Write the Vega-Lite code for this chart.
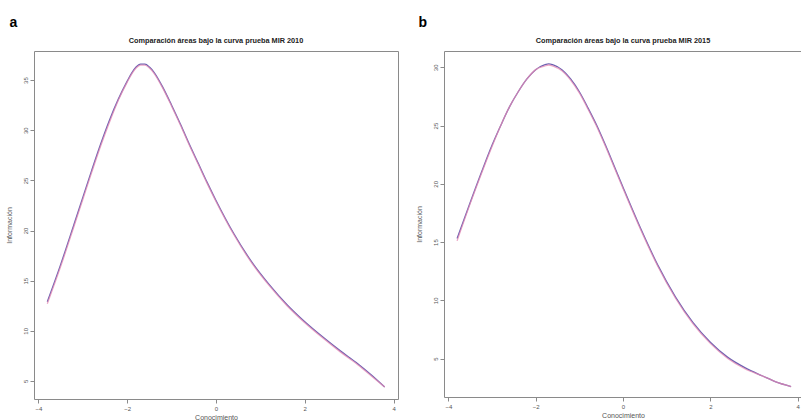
{
  "$schema": "https://vega.github.io/schema/vega-lite/v6.json",
  "padding": {"left": 4, "top": 16, "right": 0, "bottom": 0},
  "spacing": 15,
  "background": "white",
  "config": {
    "font": "Liberation Sans",
    "view": {"stroke": "#8a8a8a", "strokeWidth": 1},
    "axis": {"domain": false, "grid": false, "tickColor": "#8a8a8a", "tickSize": 4, "labelFontSize": 6, "labelColor": "#555", "titleFontSize": 7, "titleFontWeight": "normal", "titleColor": "#555", "labelPadding": 2},
    "title": {"font": "Liberation Sans"}
  },
  "datasets": {
    "a": [
      {"x": -3.8, "y": 12.9, "s": "1"}, {"x": -3.5, "y": 16.6, "s": "1"}, {"x": -3.2, "y": 20.6, "s": "1"}, {"x": -3.0, "y": 23.3, "s": "1"}, {"x": -2.8, "y": 26.0, "s": "1"}, {"x": -2.6, "y": 28.6, "s": "1"}, {"x": -2.4, "y": 31.0, "s": "1"}, {"x": -2.2, "y": 33.1, "s": "1"}, {"x": -2.0, "y": 34.9, "s": "1"}, {"x": -1.9, "y": 35.7, "s": "1"}, {"x": -1.8, "y": 36.3, "s": "1"}, {"x": -1.7, "y": 36.6, "s": "1"}, {"x": -1.6, "y": 36.6, "s": "1"}, {"x": -1.5, "y": 36.3, "s": "1"}, {"x": -1.4, "y": 35.8, "s": "1"}, {"x": -1.2, "y": 34.3, "s": "1"}, {"x": -1.0, "y": 32.5, "s": "1"}, {"x": -0.8, "y": 30.6, "s": "1"}, {"x": -0.6, "y": 28.6, "s": "1"}, {"x": -0.4, "y": 26.7, "s": "1"}, {"x": -0.2, "y": 24.8, "s": "1"}, {"x": 0.0, "y": 23.0, "s": "1"}, {"x": 0.4, "y": 19.7, "s": "1"}, {"x": 0.8, "y": 16.9, "s": "1"}, {"x": 1.2, "y": 14.6, "s": "1"}, {"x": 1.6, "y": 12.6, "s": "1"}, {"x": 2.0, "y": 10.9, "s": "1"}, {"x": 2.4, "y": 9.4, "s": "1"}, {"x": 2.8, "y": 8.0, "s": "1"}, {"x": 3.2, "y": 6.7, "s": "1"}, {"x": 3.5, "y": 5.6, "s": "1"}, {"x": 3.8, "y": 4.4, "s": "1"},
      {"x": -3.8, "y": 12.7, "s": "2"}, {"x": -3.5, "y": 16.4, "s": "2"}, {"x": -3.2, "y": 20.4, "s": "2"}, {"x": -3.0, "y": 23.1, "s": "2"}, {"x": -2.8, "y": 25.8, "s": "2"}, {"x": -2.6, "y": 28.4, "s": "2"}, {"x": -2.4, "y": 30.8, "s": "2"}, {"x": -2.2, "y": 33.0, "s": "2"}, {"x": -2.0, "y": 34.8, "s": "2"}, {"x": -1.9, "y": 35.6, "s": "2"}, {"x": -1.8, "y": 36.2, "s": "2"}, {"x": -1.7, "y": 36.5, "s": "2"}, {"x": -1.6, "y": 36.5, "s": "2"}, {"x": -1.5, "y": 36.2, "s": "2"}, {"x": -1.4, "y": 35.7, "s": "2"}, {"x": -1.2, "y": 34.2, "s": "2"}, {"x": -1.0, "y": 32.4, "s": "2"}, {"x": -0.8, "y": 30.5, "s": "2"}, {"x": -0.6, "y": 28.5, "s": "2"}, {"x": -0.4, "y": 26.6, "s": "2"}, {"x": -0.2, "y": 24.7, "s": "2"}, {"x": 0.0, "y": 22.9, "s": "2"}, {"x": 0.4, "y": 19.6, "s": "2"}, {"x": 0.8, "y": 16.8, "s": "2"}, {"x": 1.2, "y": 14.5, "s": "2"}, {"x": 1.6, "y": 12.5, "s": "2"}, {"x": 2.0, "y": 10.8, "s": "2"}, {"x": 2.4, "y": 9.3, "s": "2"}, {"x": 2.8, "y": 7.9, "s": "2"}, {"x": 3.2, "y": 6.6, "s": "2"}, {"x": 3.5, "y": 5.5, "s": "2"}, {"x": 3.8, "y": 4.4, "s": "2"}
    ],
    "b": [
      {"x": -3.8, "y": 15.3, "s": "1"}, {"x": -3.5, "y": 18.4, "s": "1"}, {"x": -3.2, "y": 21.4, "s": "1"}, {"x": -3.0, "y": 23.3, "s": "1"}, {"x": -2.8, "y": 25.0, "s": "1"}, {"x": -2.6, "y": 26.6, "s": "1"}, {"x": -2.4, "y": 27.9, "s": "1"}, {"x": -2.2, "y": 29.0, "s": "1"}, {"x": -2.0, "y": 29.8, "s": "1"}, {"x": -1.8, "y": 30.2, "s": "1"}, {"x": -1.7, "y": 30.3, "s": "1"}, {"x": -1.6, "y": 30.2, "s": "1"}, {"x": -1.4, "y": 29.8, "s": "1"}, {"x": -1.2, "y": 29.0, "s": "1"}, {"x": -1.0, "y": 27.9, "s": "1"}, {"x": -0.8, "y": 26.5, "s": "1"}, {"x": -0.6, "y": 25.0, "s": "1"}, {"x": -0.4, "y": 23.3, "s": "1"}, {"x": -0.2, "y": 21.5, "s": "1"}, {"x": 0.0, "y": 19.7, "s": "1"}, {"x": 0.4, "y": 16.2, "s": "1"}, {"x": 0.8, "y": 13.0, "s": "1"}, {"x": 1.2, "y": 10.3, "s": "1"}, {"x": 1.6, "y": 8.1, "s": "1"}, {"x": 2.0, "y": 6.4, "s": "1"}, {"x": 2.4, "y": 5.1, "s": "1"}, {"x": 2.8, "y": 4.2, "s": "1"}, {"x": 3.2, "y": 3.5, "s": "1"}, {"x": 3.5, "y": 3.0, "s": "1"}, {"x": 3.85, "y": 2.6, "s": "1"},
      {"x": -3.8, "y": 15.1, "s": "2"}, {"x": -3.5, "y": 18.3, "s": "2"}, {"x": -3.2, "y": 21.3, "s": "2"}, {"x": -3.0, "y": 23.2, "s": "2"}, {"x": -2.8, "y": 25.0, "s": "2"}, {"x": -2.6, "y": 26.6, "s": "2"}, {"x": -2.4, "y": 27.9, "s": "2"}, {"x": -2.2, "y": 29.0, "s": "2"}, {"x": -2.0, "y": 29.8, "s": "2"}, {"x": -1.8, "y": 30.1, "s": "2"}, {"x": -1.7, "y": 30.2, "s": "2"}, {"x": -1.6, "y": 30.1, "s": "2"}, {"x": -1.4, "y": 29.7, "s": "2"}, {"x": -1.2, "y": 28.9, "s": "2"}, {"x": -1.0, "y": 27.8, "s": "2"}, {"x": -0.8, "y": 26.4, "s": "2"}, {"x": -0.6, "y": 24.9, "s": "2"}, {"x": -0.4, "y": 23.2, "s": "2"}, {"x": -0.2, "y": 21.4, "s": "2"}, {"x": 0.0, "y": 19.6, "s": "2"}, {"x": 0.4, "y": 16.1, "s": "2"}, {"x": 0.8, "y": 12.9, "s": "2"}, {"x": 1.2, "y": 10.2, "s": "2"}, {"x": 1.6, "y": 8.0, "s": "2"}, {"x": 2.0, "y": 6.3, "s": "2"}, {"x": 2.4, "y": 5.0, "s": "2"}, {"x": 2.8, "y": 4.1, "s": "2"}, {"x": 3.2, "y": 3.5, "s": "2"}, {"x": 3.5, "y": 3.0, "s": "2"}, {"x": 3.85, "y": 2.6, "s": "2"}
    ]
  },
  "hconcat": [
    {
      "title": {"text": "a", "anchor": "start", "frame": "bounds", "fontSize": 14, "fontWeight": "bold", "color": "#000", "offset": 6, "dx": 5},
      "vconcat": [
        {
          "data": {"name": "a"},
          "width": 364,
          "height": 348,
          "title": {"text": "Comparación áreas bajo la curva prueba MIR 2010", "fontSize": 7.3, "fontWeight": "bold", "color": "#222", "offset": 7},
          "mark": {"type": "line", "strokeWidth": 1.3, "interpolate": "monotone"},
          "encoding": {
            "x": {"field": "x", "type": "quantitative", "title": "Conocimiento", "scale": {"domain": [-4.1, 4.1], "nice": false, "zero": false}, "axis": {"values": [-4, -2, 0, 2, 4], "titlePadding": 2}},
            "y": {"field": "y", "type": "quantitative", "title": "Información", "scale": {"domain": [3.2, 37.9], "nice": false, "zero": false}, "axis": {"values": [5, 10, 15, 20, 25, 30, 35], "labelAngle": -90, "labelAlign": "center", "labelBaseline": "bottom", "minExtent": 16, "maxExtent": 16, "titlePadding": 6}},
            "color": {"field": "s", "type": "nominal", "scale": {"domain": ["1", "2"], "range": ["#5a4fa8", "#e58ab3"]}, "legend": null},
            "opacity": {"field": "s", "type": "nominal", "scale": {"domain": ["1", "2"], "range": [0.9, 0.75]}, "legend": null}
          }
        }
      ]
    },
    {
      "title": {"text": "b", "anchor": "start", "frame": "bounds", "fontSize": 14, "fontWeight": "bold", "color": "#000", "offset": 6, "dx": 4},
      "vconcat": [
        {
          "data": {"name": "b"},
          "width": 358,
          "height": 346,
          "title": {"text": "Comparación áreas bajo la curva prueba MIR 2015", "fontSize": 7.3, "fontWeight": "bold", "color": "#222", "offset": 7},
          "mark": {"type": "line", "strokeWidth": 1.3, "interpolate": "monotone"},
          "encoding": {
            "x": {"field": "x", "type": "quantitative", "title": "Conocimiento", "scale": {"domain": [-4.1, 4.1], "nice": false, "zero": false}, "axis": {"values": [-4, -2, 0, 2, 4], "titlePadding": 2}},
            "y": {"field": "y", "type": "quantitative", "title": "Información", "scale": {"domain": [1.7, 31.4], "nice": false, "zero": false}, "axis": {"values": [5, 10, 15, 20, 25, 30], "labelAngle": -90, "labelAlign": "center", "labelBaseline": "bottom", "minExtent": 16, "maxExtent": 16, "titlePadding": 6}},
            "color": {"field": "s", "type": "nominal", "scale": {"domain": ["1", "2"], "range": ["#5a4fa8", "#e58ab3"]}, "legend": null},
            "opacity": {"field": "s", "type": "nominal", "scale": {"domain": ["1", "2"], "range": [0.9, 0.75]}, "legend": null}
          }
        }
      ]
    }
  ]
}
